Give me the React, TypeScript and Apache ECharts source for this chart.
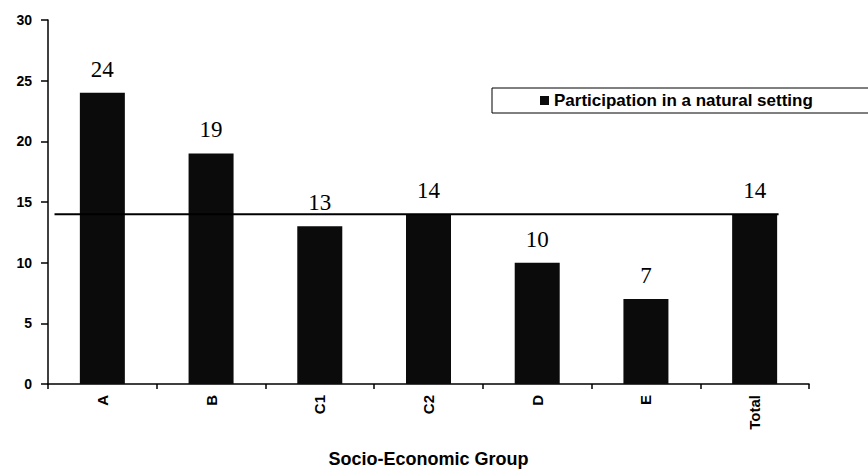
import React, { useEffect, useRef } from "react";
import * as echarts from "echarts";

// Socio-economic groups and the share participating in a natural setting
const groups = ["A", "B", "C1", "C2", "D", "E", "Total"];
const participation = [24, 19, 13, 14, 10, 7, 14];

// Reference level drawn across the chart (the overall total)
const totalLevel = 14;
// Horizontal span of the reference line, in category units (0 = left edge, 7 = right edge)
const levelSpan = [0.06, 6.72];

const yTicks = { min: 0, max: 30, interval: 5 };

export default function App() {
  const ref = useRef<HTMLDivElement>(null);

  useEffect(() => {
    if (!ref.current) return;
    const chart = echarts.init(ref.current, null, { renderer: "svg" });
    const sans = "'Liberation Sans', Arial, sans-serif";
    chart.setOption({
      animation: false,
      backgroundColor: "#ffffff",
      grid: { left: 48, right: 59, top: 20, bottom: 83 },
      legend: {
        data: ["Participation in a natural setting"],
        left: 492,
        top: 88,
        icon: "rect",
        itemWidth: 9,
        itemHeight: 9,
        padding: [4, 70, 4, 48],
        borderColor: "#000",
        borderWidth: 1,
        textStyle: { color: "#000", fontFamily: sans, fontWeight: "bold", fontSize: 17 },
      },
      xAxis: [
        {
          type: "category",
          data: groups,
          name: "Socio-Economic Group",
          nameLocation: "middle",
          nameGap: 66,
          nameTextStyle: { color: "#000", fontFamily: sans, fontWeight: "bold", fontSize: 18 },
          axisLine: { lineStyle: { color: "#000", width: 1.5 } },
          axisTick: { show: true, length: 5, lineStyle: { color: "#000", width: 1.5 } },
          axisLabel: { rotate: 90, margin: 11, color: "#000", fontFamily: sans, fontWeight: "bold", fontSize: 15 },
        },
        { type: "value", min: 0, max: groups.length, show: false },
      ],
      yAxis: {
        type: "value",
        min: yTicks.min,
        max: yTicks.max,
        interval: yTicks.interval,
        splitLine: { show: false },
        axisLine: { show: true, lineStyle: { color: "#000", width: 1.5 } },
        axisTick: { show: true, length: 7, lineStyle: { color: "#000", width: 1.5 } },
        axisLabel: { margin: 16, color: "#000", fontFamily: sans, fontWeight: "bold", fontSize: 14 },
      },
      series: [
        {
          name: "Participation in a natural setting",
          type: "bar",
          data: participation,
          barWidth: 45,
          itemStyle: { color: "#0b0b0b" },
          label: {
            show: true,
            position: "top",
            distance: 12,
            color: "#000",
            fontFamily: "'Liberation Serif', 'Times New Roman', serif",
            fontSize: 23,
          },
          z: 2,
        },
        {
          name: "Total level",
          type: "line",
          xAxisIndex: 1,
          data: levelSpan.map((x) => [x, totalLevel]),
          symbol: "none",
          lineStyle: { color: "#000", width: 2 },
          z: 3,
        },
      ],
    });
    return () => chart.dispose();
  }, []);

  return (
    <div
      ref={ref}
      style={{ position: "fixed", left: 0, top: 0, width: 868, height: 473, background: "#fff" }}
    />
  );
}
